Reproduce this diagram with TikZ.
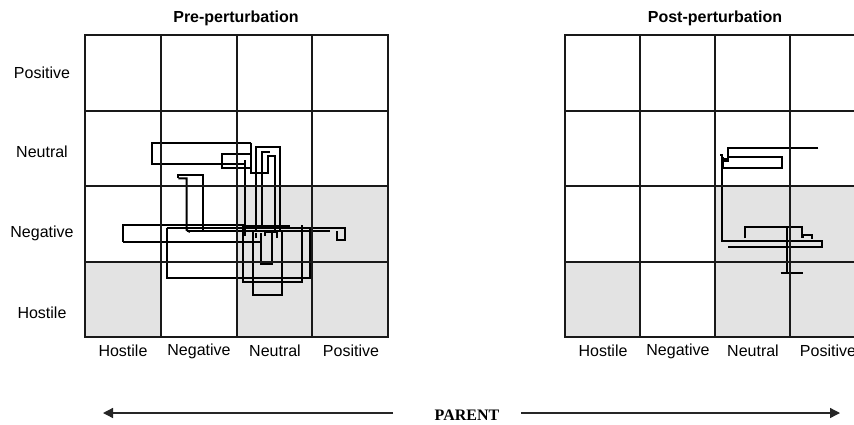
\documentclass[tikz,border=0pt]{standalone}
\usepackage{fontspec}
\setmainfont{Liberation Sans}
\newfontfamily\parentfont{Liberation Serif}
\usetikzlibrary{arrows.meta}
\begin{document}
\begin{tikzpicture}[x=1pt,y=-1pt,
  gridline/.style={line width=2pt, black!90, line cap=rect},
  traj/.style={line width=2pt, black},
  cellshade/.style={fill=black!11},
  lbl/.style={font=\fontsize{16}{18}\selectfont, inner sep=0pt},
  ttl/.style={font=\bfseries\fontsize{16}{18}\selectfont, inner sep=0pt},
  parentlbl/.style={font=\parentfont\bfseries\fontsize{16}{18}\selectfont, inner sep=0pt},
  axisarrow/.style={line width=1.3pt, black!85, -{Triangle[length=10pt,width=10pt]}}]
\useasboundingbox (0,0) rectangle (854,424);
\fill[white] (0,0) rectangle (854,424);
\clip (0,0) rectangle (854,424);

% ---------- left grid (pre-perturbation) ----------
\begin{scope}[shift={(85,337)}, x=75.75pt, y=75.5pt]
  \foreach \c/\r in {0/0,2/0,3/0,2/1,3/1}
    \fill[cellshade] (\c,\r) rectangle (\c+1,\r+1);
\end{scope}
% ---------- right grid (post-perturbation) ----------
\begin{scope}[shift={(565,337)}, x=75pt, y=75.5pt]
  \foreach \c/\r in {0/0,2/0,3/0,2/1,3/1}
    \fill[cellshade] (\c,\r) rectangle (\c+1,\r+1);
\end{scope}

% trajectories, left
\draw[traj] (250.7,142.7) -- (151.7,142.7) -- (151.7,164) -- (245,164);
\draw[traj] (221.7,157) -- (221.7,154) -- (250,154) (221.7,154) -- (221.7,168.3) -- (250,168.3);
\draw[traj] (250.7,142.7) -- (250.7,173.3) -- (268,173.3) -- (268,156) -- (275,156) -- (275,231);
\draw[traj] (256,230) -- (256,146.7) -- (280,146.7) -- (280,232);
\draw[traj] (245,160) -- (245,236);
\draw[traj] (262,228) -- (262,152) -- (270,152);
\draw[traj] (178.3,178.3) -- (178.3,175) -- (203.3,175) -- (203.3,230);
\draw[traj] (178.3,178.3) -- (186.7,178.3) -- (186.7,230) -- (190,232);
\draw[traj] (166.7,228.3) -- (338.3,228.3) -- (345,228.3) -- (345,240) -- (336.7,240) -- (336.7,231);
\draw[traj] (186.7,231) -- (330,231);
\draw[traj] (243,226) -- (290,226);
\draw[traj] (123.3,241.7) -- (123.3,225.3) -- (245,225.3);
\draw[traj] (123.3,241.7) -- (260,241.7);
\draw[traj] (166.7,228.3) -- (166.7,277.7) -- (310,277.7) -- (310,228.3);
\draw[traj] (243.3,225) -- (243.3,281.7) -- (301.7,281.7) -- (301.7,225);
\draw[traj] (253.3,231.7) -- (253.3,295) -- (281.7,295) -- (281.7,231.7);
\draw[traj] (260.7,233) -- (260.7,264.3) -- (271.7,264.3) -- (271.7,233);
\draw[traj] (265,236) -- (265,232) -- (277,232) -- (277,238);
\draw[traj] (256,238) -- (256,233);

% trajectories, right
\draw[traj] (818.3,147.7) -- (728.3,147.7) -- (728.3,156.7) -- (781.7,156.7) -- (781.7,168.3) -- (723.3,168.3) -- (723.3,156.7);
\fill (724,158) rectangle (729,162);
\draw[traj] (720,154.5) -- (722.3,154.5) -- (722.3,240.7) -- (821.7,240.7) -- (821.7,246.7) -- (728.3,246.7);
\draw[traj] (745,238.3) -- (745,227.3) -- (801.7,227.3) -- (801.7,236.7) -- (803.3,236.7) -- (803.3,235) -- (811.7,235) -- (811.7,239.3);
\draw[traj] (786.7,226.7) -- (786.7,273.3);
\draw[traj] (790,230) -- (790,273.3);
\draw[traj] (780.7,273.3) -- (803.3,273.3);

% grid lines
\begin{scope}[shift={(85,337)}, x=75.75pt, y=75.5pt]
  \foreach \i in {0,...,4} {
    \draw[gridline] (\i,0) -- (\i,4);
    \draw[gridline] (0,\i) -- (4,\i);
  }
\end{scope}
\begin{scope}[shift={(565,337)}, x=75pt, y=75.5pt]
  \foreach \i in {0,...,4} {
    \draw[gridline] (\i,0) -- (\i,4);
    \draw[gridline] (0,\i) -- (4,\i);
  }
\end{scope}

% titles
\node[ttl] (preT) at (236,18) {Pre-perturbation};
\node[ttl] (postT) at (715,18) {Post-perturbation};

% row labels
\node[lbl] (rPos) at (42,73) {Positive};
\node[lbl] (rNeu) at (42,152) {Neutral};
\node[lbl] (rNeg) at (42,233) {Negative};
\node[lbl] (rHos) at (42,313) {Hostile};

% column labels, left
\node[lbl] (lcH) at (123,351) {Hostile};
\node[lbl] (lcNg) at (199,351) {Negative};
\node[lbl] (lcNu) at (275,351) {Neutral};
\node[lbl] (lcP) at (351,351) {Positive};
% column labels, right
\node[lbl] (rcH) at (603,351) {Hostile};
\node[lbl] (rcNg) at (678,351) {Negative};
\node[lbl] (rcNu) at (753,351) {Neutral};
\node[lbl] (rcP) at (828,351) {Positive};

% parent axis
\node[parentlbl] (parent) at (467,415) {PARENT};
\coordinate (lend) at (393,413);
\coordinate (ltip) at (103,413);
\coordinate (rstart) at (521,413);
\coordinate (rtip) at (840,413);
\draw[axisarrow] (lend) -- (ltip);
\draw[axisarrow] (rstart) -- (rtip);
\end{tikzpicture}
\end{document}
